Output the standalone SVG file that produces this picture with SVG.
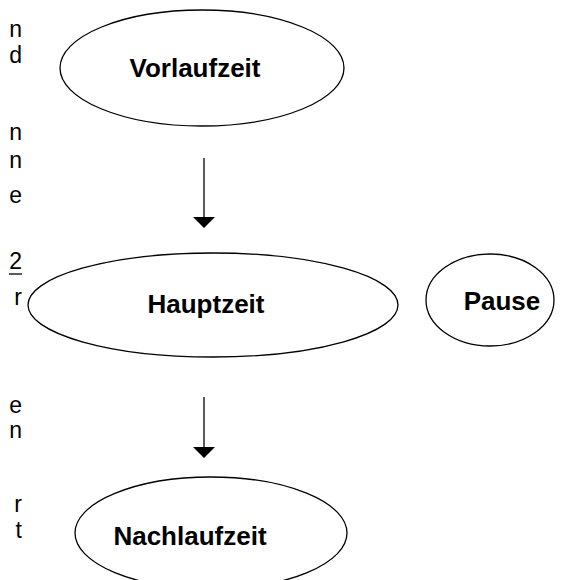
<svg xmlns="http://www.w3.org/2000/svg" width="570" height="580" viewBox="0 0 570 580">
<style>
.node ellipse{fill:#fff;stroke:#000;stroke-width:1.3}
.lbl{font-family:"Liberation Sans",Arial,sans-serif;font-weight:bold;font-size:26px;fill:#000;text-anchor:middle}
.edge{font-family:"Liberation Sans",Arial,sans-serif;font-size:23px;fill:#000;text-anchor:end}
.conn line{stroke:#000;stroke-width:1.3}
.conn path{fill:#000}
</style>
<rect width="570" height="580" fill="#fff"/>
<g id="margin-text">
<text class="edge" x="22" y="37">n</text>
<text class="edge" x="22" y="63">d</text>
<text class="edge" x="22" y="140">n</text>
<text class="edge" x="22" y="168">n</text>
<text class="edge" x="22" y="203">e</text>
<text class="edge" x="22" y="269">2</text>
<line x1="9" y1="274" x2="22" y2="274" stroke="#000" stroke-width="1.3"/>
<text class="edge" x="22" y="305">r</text>
<text class="edge" x="22" y="413">e</text>
<text class="edge" x="22" y="438">n</text>
<text class="edge" x="22" y="512">r</text>
<text class="edge" x="22" y="538">t</text>
</g>
<g id="vorlaufzeit" class="node">
<ellipse cx="202" cy="68" rx="142" ry="58"/>
<text class="lbl" x="195" y="77">Vorlaufzeit</text>
</g>
<g id="hauptzeit" class="node">
<ellipse cx="213" cy="305" rx="185" ry="52"/>
<text class="lbl" x="206" y="313">Hauptzeit</text>
</g>
<g id="pause" class="node">
<ellipse cx="490" cy="300" rx="64" ry="46"/>
<text class="lbl" x="502" y="310">Pause</text>
</g>
<g id="nachlaufzeit" class="node">
<ellipse cx="211" cy="533" rx="136" ry="56"/>
<text class="lbl" x="190" y="545">Nachlaufzeit</text>
</g>
<g id="connectors" class="conn">
<line x1="204" y1="158" x2="204" y2="218"/>
<path d="M193,217 L215,217 L204,228 Z"/>
<line x1="204" y1="397" x2="204" y2="448"/>
<path d="M193,447 L215,447 L204,458 Z"/>
</g>
</svg>
